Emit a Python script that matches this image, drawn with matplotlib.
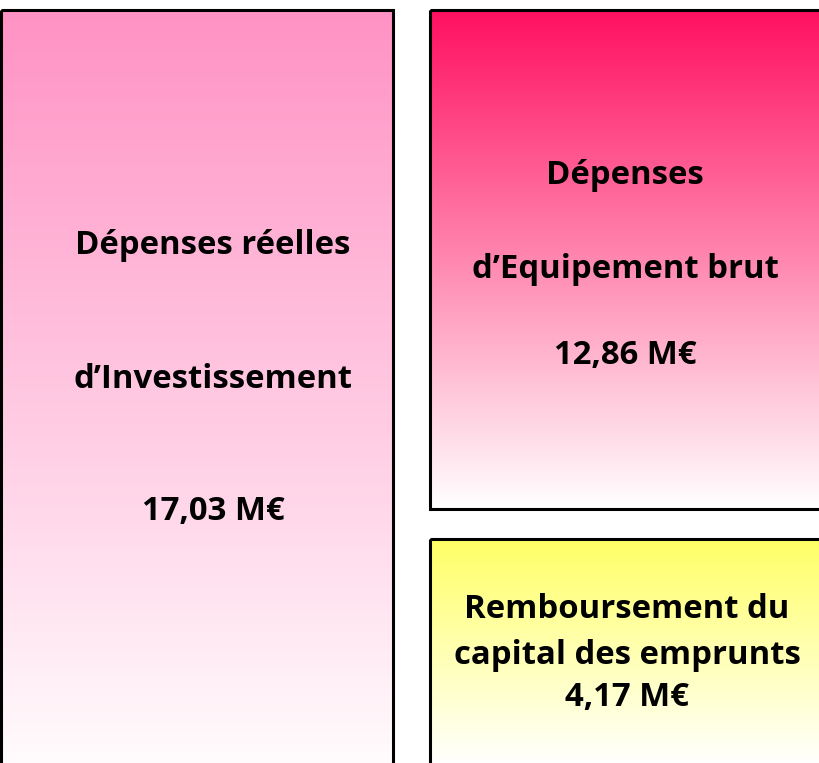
import numpy as np
import matplotlib.pyplot as plt
from matplotlib.patches import Rectangle
from matplotlib.colors import to_rgb

# boxes: label lines, value
titles = [["Dépenses réelles", "d\u2019Investissement", "17,03 M\u20ac"],
          ["Dépenses", "d\u2019Equipement brut", "12,86 M\u20ac"],
          ["Remboursement du", "capital des emprunts", "4,17 M\u20ac"]]
top_colors = ["#ff92c4", "#ff1060", "#ffff66"]
bottom_colors = ["#ffffff", "#ffffff", "#ffffff"]

W, H = 819, 763
fig = plt.figure(figsize=(W / 100, H / 100), dpi=100)
ax = fig.add_axes([0, 0, 1, 1])
ax.set_xlim(0, W)
ax.set_ylim(H, 0)
ax.axis('off')

boxes = [(1, 10, 392, 780), (430, 10, 400, 499), (430, 539, 400, 226)]
text_y = [[246, 379, 512], [175, 269, 356], [610, 656, 698]]
text_x = [213, 625, 627]


def gradient(c1, c2, n=256):
    a = np.array(to_rgb(c1))
    b = np.array(to_rgb(c2))
    t = np.linspace(0, 1, n)[:, None]
    return (a * (1 - t) + b * t)[:, None, :]


for (x, y, w, h), c1, c2 in zip(boxes, top_colors, bottom_colors):
    img = gradient(c1, c2)
    im = ax.imshow(img, extent=(x, x + w, y + h, y), aspect='auto', zorder=1)
    rect = Rectangle((x, y), w, h, facecolor='none', edgecolor='black',
                     linewidth=2.2, zorder=2)
    ax.add_patch(rect)
    im.set_clip_path(rect)

ax.set_xlim(0, W)
ax.set_ylim(H, 0)

for lines, ys, xc in zip(titles, text_y, text_x):
    for s, yy in zip(lines, ys):
        ax.text(xc, yy, s, ha='center', va='center', fontsize=23.7,
                fontweight='bold', family='Open Sans', zorder=3)

fig.savefig('out.png', dpi=100)
